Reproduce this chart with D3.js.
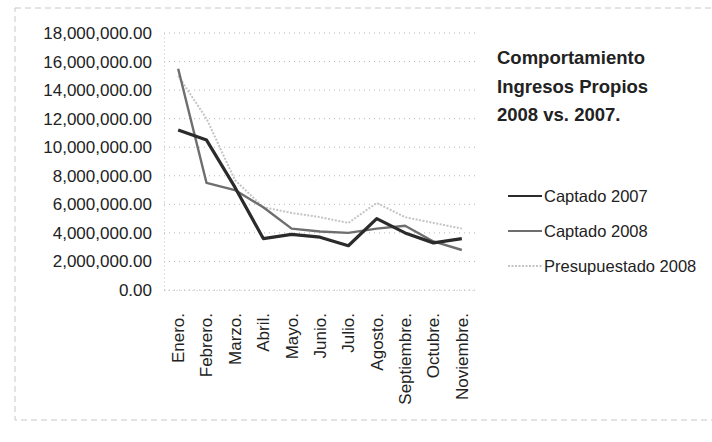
<!DOCTYPE html>
<html>
<head>
<meta charset="utf-8">
<script src="https://cdn.jsdelivr.net/npm/d3@7/dist/d3.min.js"></script>
<style>
  body { margin: 0; background: #fff; }
  svg text { font-family: "Liberation Sans", Arial, sans-serif; fill: #222; }
</style>
</head>
<body>
<div id="chart"></div>
<script>
var months = ["Enero.", "Febrero.", "Marzo.", "Abril.", "Mayo.", "Junio.", "Julio.",
              "Agosto.", "Septiembre.", "Octubre.", "Noviembre."];
var captado2007 = [11200000, 10500000, 7200000, 3600000, 3900000, 3700000, 3100000, 5000000, 4000000, 3300000, 3600000];
var captado2008 = [15500000, 7500000, 7000000, 5800000, 4300000, 4100000, 4000000, 4300000, 4500000, 3400000, 2800000];
var presupuestado2008 = [15000000, 12000000, 7700000, 5800000, 5400000, 5100000, 4700000, 6100000, 5100000, 4700000, 4300000];
var yTicks = [0, 2000000, 4000000, 6000000, 8000000, 10000000, 12000000, 14000000, 16000000, 18000000];
var titleLines = ["Comportamiento", "Ingresos Propios", "2008 vs. 2007."];

var series = [
  {name: "Captado 2007", values: captado2007, color: "#2b2b2b", width: 3.2, dash: null},
  {name: "Captado 2008", values: captado2008, color: "#6e6e6e", width: 2.4, dash: null},
  {name: "Presupuestado 2008", values: presupuestado2008, color: "#c4c4c4", width: 2, dash: "2,1.5"}
];

var width = 712, height = 442;
var plot = {left: 164, right: 476, top: 33, bottom: 290};

var svg = d3.select("#chart").append("svg")
    .attr("width", width)
    .attr("height", height);

// faint scanned chart border
svg.append("rect")
    .attr("x", 15).attr("y", 8)
    .attr("width", 700).attr("height", 412)
    .attr("fill", "none")
    .attr("stroke", "#c8c8c8")
    .attr("stroke-dasharray", "6,4");

var x = d3.scaleBand().domain(months).range([plot.left, plot.right]);
var y = d3.scaleLinear().domain([0, 18000000]).range([plot.bottom, plot.top]);

// gridlines
svg.append("g").selectAll("line")
    .data(yTicks)
    .enter().append("line")
    .attr("x1", plot.left).attr("x2", plot.right)
    .attr("y1", function(d) { return y(d); })
    .attr("y2", function(d) { return y(d); })
    .attr("stroke", "#b5b5b5")
    .attr("stroke-width", 1)
    .attr("stroke-dasharray", "1,4");

// y axis
var yAxis = svg.append("g")
    .attr("transform", "translate(" + plot.left + ",0)")
    .call(d3.axisLeft(y).tickValues(yTicks).tickSize(0).tickPadding(12)
        .tickFormat(function(d) { return d3.format(",.2f")(d); }));
yAxis.select(".domain").attr("stroke", "#c0c0c0").attr("stroke-dasharray", "1,3");
yAxis.selectAll("text")
    .style("font-size", "17px")
    .attr("fill", "#222");

// x axis
var xAxis = svg.append("g")
    .attr("transform", "translate(0," + plot.bottom + ")")
    .call(d3.axisBottom(x).tickSize(0));
xAxis.select(".domain").attr("stroke", "#c0c0c0").attr("stroke-dasharray", "1,3");
xAxis.selectAll("text")
    .style("font-size", "17px")
    .attr("fill", "#222")
    .attr("text-anchor", "end")
    .attr("transform", "rotate(-90)")
    .attr("x", -23)
    .attr("y", 0)
    .attr("dy", "0.35em");

var line = d3.line()
    .x(function(d, i) { return x(months[i]) + x.bandwidth() / 2; })
    .y(function(d) { return y(d); });

svg.append("g").selectAll("path")
    .data(series.slice().reverse())
    .enter().append("path")
    .attr("d", function(d) { return line(d.values); })
    .attr("fill", "none")
    .attr("stroke", function(d) { return d.color; })
    .attr("stroke-width", function(d) { return d.width; })
    .attr("stroke-dasharray", function(d) { return d.dash; })
    .attr("stroke-linejoin", "round");

// title
svg.append("g").selectAll("text")
    .data(titleLines)
    .enter().append("text")
    .attr("x", 497)
    .attr("y", function(d, i) { return 64 + i * 28.5; })
    .style("font-size", "18.5px")
    .style("font-weight", "bold")
    .text(function(d) { return d; });

// legend
var legend = svg.append("g").selectAll("g")
    .data(series)
    .enter().append("g")
    .attr("transform", function(d, i) { return "translate(508," + (196 + i * 35) + ")"; });

legend.append("line")
    .attr("x1", 0).attr("x2", 34)
    .attr("stroke", function(d) { return d.color; })
    .attr("stroke-width", function(d) { return Math.min(d.width, 2); })
    .attr("stroke-dasharray", function(d) { return d.dash; });

legend.append("text")
    .attr("x", 36)
    .attr("dy", "0.35em")
    .style("font-size", "16.5px")
    .text(function(d) { return d.name; });
</script>
</body>
</html>
